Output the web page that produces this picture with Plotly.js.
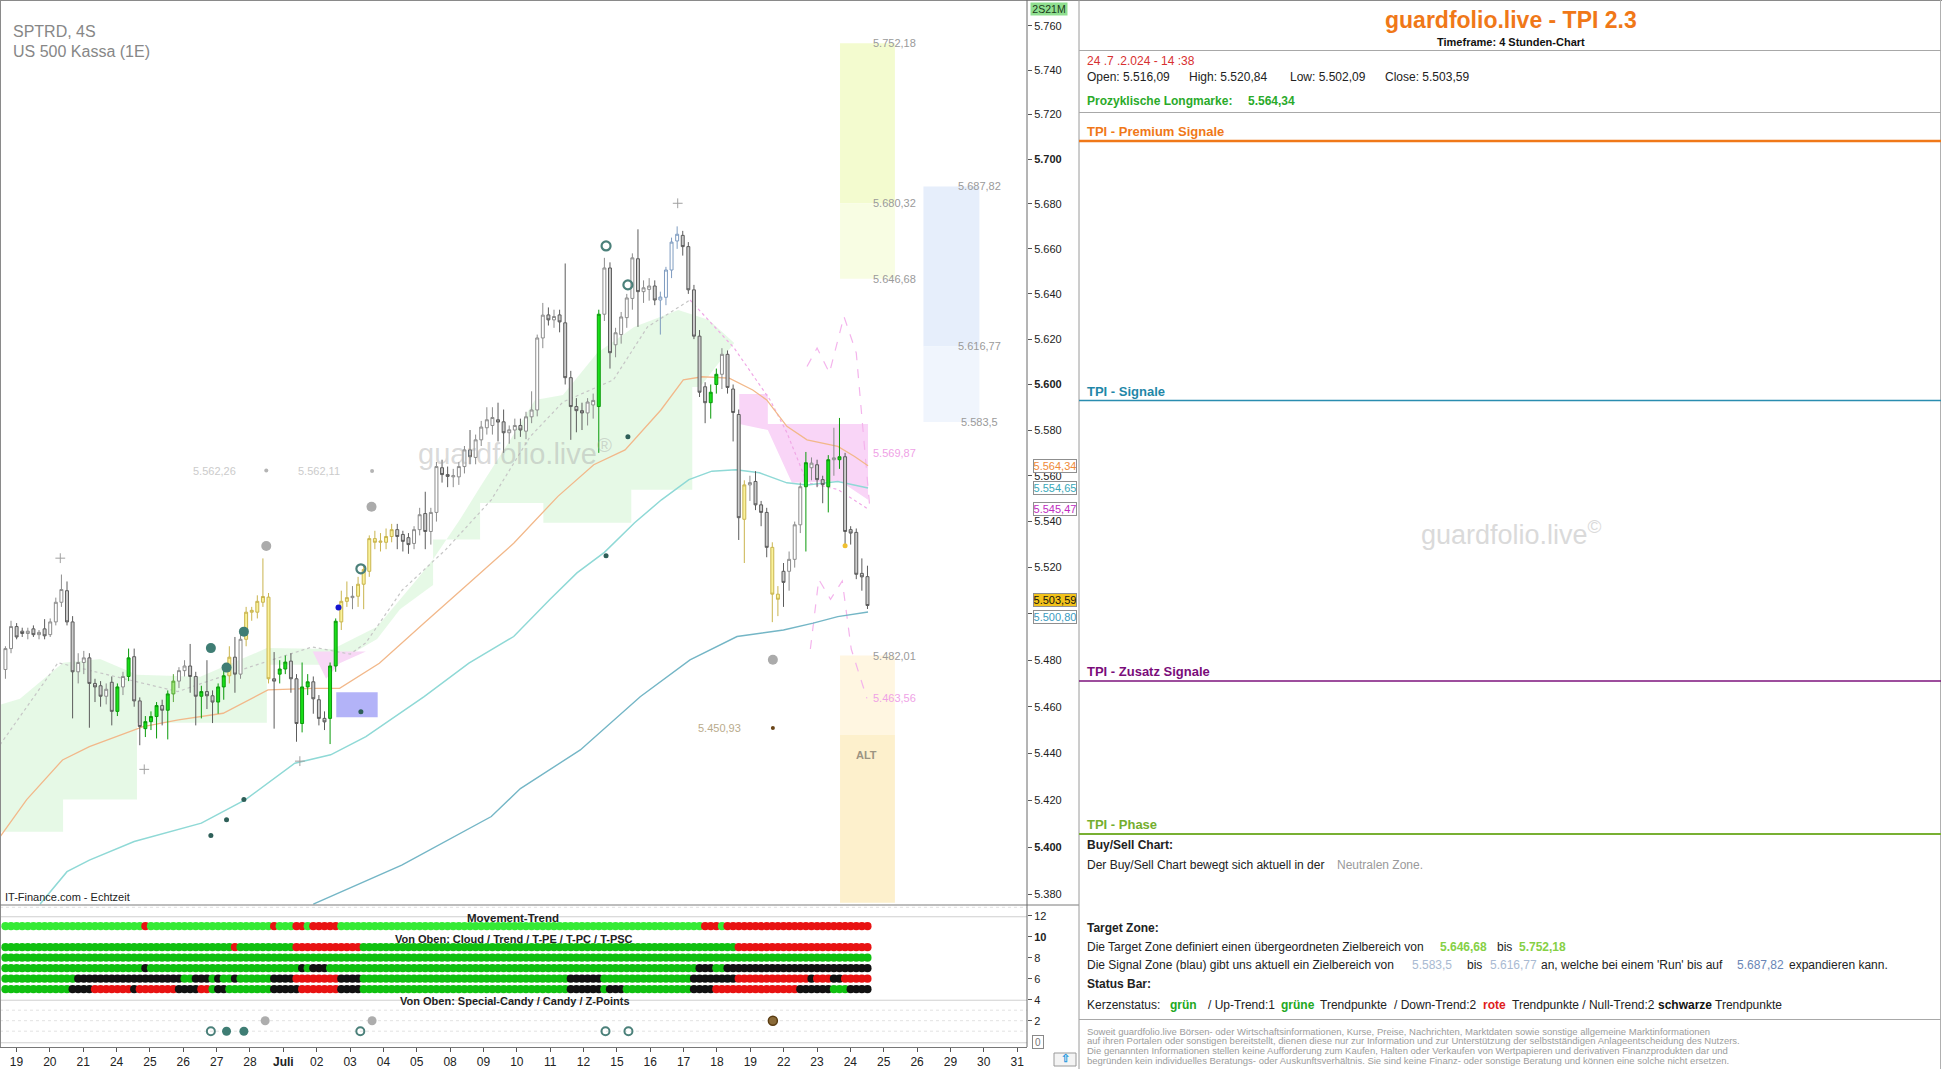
<!DOCTYPE html>
<html><head><meta charset="utf-8">
<script src="https://cdn.plot.ly/plotly-3.0.1.min.js"></script>
<style>html,body{margin:0;padding:0;background:#fff;overflow:hidden}#chart{width:1942px;height:1069px}</style>
</head><body><div id="chart"></div>
<script>
// ================= DATA =================
const firstCandle = -3; // candle slot of first value (slots: 6 per trading day)
const candleOpen = [
5476,5485,5494.5,5492.5,5491.5,5493.5,5491,5493.5,5491,5496.5,
5505,5510,5496.5,5475,5479,5481,5470,5469,5464.5,5470.5,
5458,5468.5,5473,5481.5,5462.5,5450.6,5453.6,5455.8,5460.5,5458.5,
5465.5,5471,5475.5,5477.5,5473,5464.5,5466.5,5464.7,5462,5468.5,
5473.3,5481.3,5474,5489,5500.7,5500.7,5505,5507.2,5472,5474,
5476.2,5479.6,5472,5452.8,5468.5,5470.7,5463,5455,5455,5477.5,
5496.5,5505.4,5507,5507.6,5512.8,5518.4,5532.6,5531,5531,5533.5,
5536.5,5534.4,5533,5530.5,5536.5,5543.5,5535.7,5544,5563.5,5560.5,
5559.5,5559.5,5564,5571.3,5568,5575.7,5581,5582,5584.5,5583.6,
5578.8,5580,5582,5579.5,5585.8,5588.8,5620.5,5630.7,5628.5,5630.7,
5627.2,5603,5590.3,5588.5,5587.5,5591,5590.3,5631,5651.5,5617.5,
5622,5629.5,5638,5655.6,5641,5642,5643.5,5637.3,5638.5,5650.6,
5663.5,5666,5661,5641.8,5621.3,5599,5592,5600,5604.5,5613.3,
5598,5586.8,5541,5556,5557.5,5547.3,5544,5528.8,5508.5,5518.4,
5518.4,5523.6,5538.6,5555.2,5563.5,5564.8,5558.3,5555.2,5567,5567,
5568.3,5536.5,5535.3,5517.5,5516.09];
const candleHigh = [
5486,5497,5496,5494,5494,5495,5493,5497.7,5498,5507,
5517,5514,5499,5483,5484,5483,5472,5471,5470,5473,
5470,5475,5485,5485,5464,5456,5458,5462,5463,5467,
5474,5477,5480,5487,5475,5469,5480,5467,5470,5476,
5486,5490,5492,5503,5503,5508,5524,5509,5483.5,5480,
5482,5483,5474,5479,5474,5473,5465,5458,5479,5498,
5510,5514,5512,5516,5521,5534,5536,5535,5537,5539,
5539,5536,5535,5538,5546,5553,5546,5566,5567,5564,
5563,5566,5573,5580,5578,5584,5590,5590,5592,5589,
5582,5585,5585,5588,5597,5622,5636,5634,5633,5633,
5653.5,5606,5594,5592,5594,5596,5633,5656,5654,5625,
5632,5640,5658,5668.7,5646,5647,5646,5641,5652,5665,
5670,5668,5663,5644,5624,5601,5600,5607,5616,5615,
5600,5589,5558,5560,5562,5549,5546,5531,5512,5522,
5527,5540,5557,5570.4,5568,5567,5560,5569,5581,5585.3,
5570,5538,5537,5524,5520.84];
const candleLow = [
5472,5483,5489,5490,5489,5490,5489,5489,5490,5495,
5503,5495,5455,5470,5474,5451,5462,5460,5461,5452,
5456,5465,5471,5460,5443.5,5447,5450,5446.4,5452,5446,
5462,5468,5473,5466,5452,5455,5459,5453,5457,5463,
5470,5466,5472,5486,5497,5498,5503,5470,5450.6,5470,
5474,5466,5445,5449,5465,5457,5452,5450,5444,5475,
5493,5503,5502,5503,5502,5516,5528,5527,5528,5531,
5528,5527,5526,5528,5534,5528,5530,5540,5557,5555,
5555,5556,5561,5565,5565,5573,5578,5578,5575,5570,
5574,5576,5577,5576,5583,5586,5616,5626,5625,5623,
5600,5575.7,5579,5580,5582,5585,5570,5628,5607,5612,
5618,5625,5633,5625.4,5636,5637,5635,5622,5635,5647,
5660,5657,5640,5620,5594.5,5583,5585,5596,5598,5596,
5575,5532,5522,5549,5545,5538,5524.5,5496.4,5499,5503,
5510,5520,5535,5527,5558,5555,5548,5544,5560,5563,
5530,5530,5515,5510,5502.09];
const candleClose = [
5485,5494.5,5490,5491.5,5492.5,5491,5492,5490.5,5496.5,5505,
5510.5,5496.5,5475,5479,5481,5470,5468.5,5464.5,5467.5,5458,
5468.5,5473,5481,5462.5,5451.5,5453.6,5455.8,5460.5,5458.5,5465.5,
5471,5475.5,5477.5,5473,5464.5,5466.5,5464.7,5462,5468.5,5473.3,
5481.3,5474,5489,5500.7,5501.5,5505.4,5507.5,5472,5471,5476.2,
5479.2,5472,5452.8,5468.5,5470.7,5463.4,5455,5453.5,5477.5,5496.8,
5505.4,5507,5507.6,5512.8,5519.2,5532.6,5531,5531.5,5533.5,5536.5,
5533.5,5531.4,5530,5536.5,5543,5535.7,5544,5564,5560.5,5559.7,
5560,5564,5571.3,5568.3,5575.7,5581.3,5584.5,5585.5,5583.5,5578.8,
5580.1,5582,5580,5585.8,5588.8,5620.5,5630.6,5628.5,5630,5627.6,
5603,5590.3,5588.5,5587.5,5592.3,5593,5631,5651.5,5614,5622.8,
5629.8,5638.2,5656,5641,5642.7,5643.5,5637.3,5638.6,5650.6,5663,
5666.5,5661,5641.8,5621.3,5596.6,5592,5596.6,5604.5,5613.3,5598.7,
5587.7,5541.7,5556,5557,5547.3,5544,5528.8,5508.5,5506.3,5513.6,
5523.6,5538.6,5555.2,5565.7,5565.5,5558.3,5556.1,5567,5567.8,5568.3,
5535.7,5535,5517.1,5516,5503.59];
// w=white up, g=grey down, G=green, Y=yellow, L=light green, B=blue-outlined
const candleStyle = (
"wwggwgwgww"+"wggwwgggwg"+"GwGggGGGgG"+"LwwggGggGG"+"YgwYYYYYgG"+
"GggGGgggGG"+"YYwYYYYYYY"+"gggwwgwwgg"+"wwwgwwwwgg"+"wwgwwwwgwg"+
"ggggwwGwgw"+"wwwgwwgBBB"+"BggggwGGgg"+"ggYwgggYYg"+"wwwGwggGwG"+"ggggg").split('');

const dayLabels = ['19','20','21','24','25','26','27','28','Juli','02','03','04','05','08','09','10','11','12','15','16','17','18','19','22','23','24','25','26','29','30','31'];

const maIdx = [-3.97,0.8,7.2,12,21.6,27.9,35.9,43.9,51.9,56.7,63.8,71.8,79.8,87.8,95.7,102.1,107.7,114.1,118.1,121.5,126.3,130.5,133,136.6,140.2,145.7,148.7,151.1];
const maVal = [5404.5,5420.3,5437.2,5442.9,5451.5,5454.4,5457.2,5467.2,5467.9,5467.9,5478.7,5496,5513.2,5530.6,5551,5564.8,5571.3,5588.8,5602,5603.4,5602.8,5597.6,5593.2,5581.6,5575.7,5572.8,5568.4,5564.34];
const emaFastIdx = [3.2,8,12,20,32,39.9,48.7,55.1,61.4,71.8,79.8,87.8,94.3,99.1,104,109.4,114.2,119.1,123.2,127.5,131.7,136.6,140.2,145.7,151.1];
const emaFastVal = [5376,5389.7,5394.6,5402.5,5410.3,5420.3,5435.8,5439.4,5447.2,5464.3,5478.7,5490.2,5506.3,5517.7,5526.6,5539.5,5549.5,5558.3,5562,5562.6,5561.3,5556.9,5556,5557.5,5554.65];
const emaSlowIdx = [52,67.8,83.8,89,99.7,110.4,119.3,127.7,136,141.3,145.7,151.1];
const emaSlowVal = [5376,5392.5,5413.1,5425,5441.5,5464.3,5480.1,5490.2,5493,5496,5498.8,5500.8];
const stopIdx = [-3.97,6.4,19.1,27.8,40.7,51.8,58.6,61.4,67.9,75.7,83.8,90.7,96.6,105.6,111.7,119.3];
const stopVal = [5443.7,5478.9,5471.5,5466.5,5477.1,5485.7,5482.6,5487.5,5510.3,5527.9,5549.5,5577,5592.3,5602,5625.4,5637.3];
const stopDownIdx = [119.3,127.2,133.6,136.6,140.2,145.7,151.1];
const stopDownVal = [5637.3,5616,5593.2,5578.9,5557,5554,5545.47];
const projUpIdx = [140.2,142,144.2,146.8,149,151.4];
const projUpVal = [5607.9,5616.1,5605.1,5630,5613.9,5546.5];
const projDnIdx = [140.8,142.3,144.4,146.5,148.1,150.9];
const projDnVal = [5484.8,5514.9,5506.3,5514.2,5484.8,5463.56];

const cloudUpIdx = [-3.97,-0.4,7.3,13.9,20.5,31.8,43.7,55.5,63.4,70.5,73.4,78.2,81.8,87.2,91.6,96.6,102.7,109.3,117.2,122.7,127.2];
const cloudUpVal = [5460.8,5463.4,5478.9,5480.5,5473.7,5472.9,5485.2,5484.8,5494.4,5514.9,5523.6,5540.9,5555.1,5575.7,5593.2,5595.4,5613.9,5625.4,5632.9,5628.5,5618.3];
const cloudLoIdx = [121.1,119.7,119.7,108.8,108.8,93.1,93.1,81.8,81.8,73.4,73.4,67.5,63.4,55.5,43.7,43.7,20.5,20.5,7.3,7.3,-3.97];
const cloudLoVal = [5598.9,5598.9,5553.9,5553.9,5539.5,5539.5,5548.1,5548.1,5532.2,5532.2,5512.5,5502,5489.1,5478,5478,5453.1,5453.1,5420.3,5420.3,5406.6,5406.6];

const pinkZoneIdx = [128.1,133.2,133.2,151.1,151.1,146.1,137.5,133.2,128.1];
const pinkZoneVal = [5595.8,5595.8,5582.6,5582.6,5549.5,5557.7,5556.9,5580,5582.6];
const pinkWedgeIdx = [51.9,61.4,56.7,54.3];
const pinkWedgeVal = [5483.7,5483.7,5478.7,5472];
const blueBoxIdx = [56.1,63.5];
const blueBoxVal = [5455.5,5466.2];

const targetZone = [5646.68,5680.32,5752.18];
const signalZone = [5583.5,5616.77,5687.82];
const altZone = [5376.51,5447.9,5482.01];

// markers on price chart
const tealDotIdx = [33.7,36.5,39.6], tealDotVal = [5485.2,5476.8,5492.3];
const greyDotIdx = [43.6,62.4,134.1], greyDotVal = [5529.4,5546.5,5480.2];
const ringIdx = [60.5,104.3,108.2], ringVal = [5519.5,5661.3,5644];
const smallDotIdx = [33.7,36.5,39.6,60.5,104.3,108.2], smallDotVal = [5405,5411.7,5420.3,5457.8,5525.1,5577.1];
const tinyGreyIdx = [43.6,62.5], tinyGreyVal = [5562.26,5562.11];
const plusIdx = [6.8,21.8,49.6,117.1], plusVal = [5524.1,5433.2,5436.7,5680.3];
const blueDotIdx = [56.5], blueDotVal = [5502.7];
const goldDotIdx = [147], goldDotVal = [5529.5];
const brownDotIdx = [134.1], brownDotVal = [5450.93];

// status bar rows (candle-slot runs; default green)
const rowMovement = [[22,22,'r'],[45,45,'r'],[49,50,'r'],[52,56,'r'],[122,124,'r'],[126,151,'r']];
const rowCloud = [[38,38,'r'],[49,60,'r'],[128,151,'r']];
const rowTrend = [];
const rowTPE = [[22,22,'k'],[50,50,'k'],[52,54,'k'],[121,123,'k'],[126,151,'k']];
const rowTPC = [[10,28,'k'],[31,33,'k'],[35,35,'k'],[38,38,'k'],[45,48,'k'],[49,56,'r'],[57,60,'k'],[98,103,'k'],[120,127,'k'],[128,140,'r'],[141,141,'k'],[142,144,'r'],[145,146,'k'],[147,151,'r']];
const rowTPSC = [[9,12,'k'],[13,19,'r'],[20,20,'k'],[21,27,'r'],[28,31,'k'],[32,33,'r'],[35,36,'k'],[45,49,'k'],[50,56,'r'],[57,60,'k'],[98,103,'k'],[105,107,'k'],[120,123,'k'],[124,138,'r'],[139,144,'k'],[148,151,'k']];
const zGreyIdx = [43.4,62.5], zBrownIdx = [134.1], zRingIdx = [33.7,60.4,104.2,108.3], zTealIdx = [36.5,39.6];

// ================= BUILD =================
const W = 1942, H = 1069;
const F = '"Liberation Sans", Arial, sans-serif';
const PX = x => x / W, PY = y => 1 - y / H;
const LG = v => Math.log10(v);
const slots = candleOpen.map((_, i) => i + firstCandle);
const xRange = [-3.97, 179.5];
const yRange = [LG(5375.6), LG(5771.3)];
const yMin = Math.pow(10, yRange[0]);
const traces = [];
const shapes = [];

// zones & indicator lines as axis-referenced shapes below the candles (shape coords on a log axis are data values)
function pathOf(xs, ys, close) {
  return xs.map((x, i) => (i ? 'L' : 'M') + x + ',' + ys[i]).join(' ') + (close ? ' Z' : '');
}
function polyShape(xs, ys, color) {
  shapes.push({type:'path', xref:'x', yref:'y', path: pathOf(xs, ys, true), fillcolor: color, line:{width:0}, layer:'below'});
}
function rectShape(x0, x1, y0, y1, color) { polyShape([x0, x1, x1, x0], [y0, y0, y1, y1], color); }
function lineShape(xs, ys, color, width, dash) {
  shapes.push({type:'path', xref:'x', yref:'y', path: pathOf(xs, ys, false), line:{color, width, dash: dash || 'solid'}, layer:'below'});
}
polyShape(cloudUpIdx.concat(cloudLoIdx), cloudUpVal.concat(cloudLoVal), 'rgba(214,246,214,0.62)');
const tz0 = 146.1, tz1 = 155.9, sz0 = 161, sz1 = 171;
rectShape(tz0, tz1, targetZone[1], targetZone[2], '#f3fbcf');
rectShape(tz0, tz1, targetZone[0], targetZone[1], '#f8fde3');
rectShape(sz0, sz1, signalZone[1], signalZone[2], '#e6eefb');
rectShape(sz0, sz1, signalZone[0], signalZone[1], '#f0f5fd');
rectShape(tz0, tz1, altZone[1], altZone[2], '#fff6e1');
rectShape(tz0, tz1, Math.max(altZone[0], yMin), altZone[1], '#fdf0cc');
polyShape(pinkZoneIdx, pinkZoneVal, '#f9d5f7');
polyShape(pinkWedgeIdx, pinkWedgeVal, '#f8d8f6');
rectShape(blueBoxIdx[0], blueBoxIdx[1], blueBoxVal[0], blueBoxVal[1], '#b3b3f8');
lineShape(stopIdx, stopVal, '#c6c6c6', 1.2, 'dot');
lineShape(stopDownIdx, stopDownVal, '#f0a8e6', 1.2, 'dot');
lineShape(projUpIdx, projUpVal, '#f4b4ec', 1.2, 'dash');
lineShape(projDnIdx, projDnVal, '#f4b4ec', 1.2, 'dash');
lineShape(emaSlowIdx, emaSlowVal, '#74b6c6', 1.4);
lineShape(emaFastIdx, emaFastVal, '#8fd9d6', 1.5);
lineShape(maIdx, maVal, '#f2b88a', 1.3);

// candles
function candles(tags, inc, dec) {
  const ii = [];
  candleStyle.forEach((t, i) => { if (tags.includes(t)) ii.push(i); });
  traces.push({type:'candlestick', xaxis:'x', yaxis:'y',
    x: ii.map(i => slots[i]), open: ii.map(i => candleOpen[i]), high: ii.map(i => candleHigh[i]),
    low: ii.map(i => candleLow[i]), close: ii.map(i => candleClose[i]),
    increasing:{line:{color:inc[0], width:1}, fillcolor:inc[1]},
    decreasing:{line:{color:dec[0], width:1}, fillcolor:dec[1]},
    whiskerwidth:0, hoverinfo:'skip', showlegend:false});
}
candles(['w','g'], ['#8c8c8c','#ffffff'], ['#5c5c5c','#cdcdcd']);
candles(['G'], ['#0a9a0a','#18e018'], ['#0a9a0a','#18e018']);
candles(['Y'], ['#c9b44e','#faf29a'], ['#c9b44e','#faf29a']);
candles(['L'], ['#5aa83a','#9ee87a'], ['#5aa83a','#9ee87a']);
candles(['B'], ['#7f9cc0','#ffffff'], ['#7f9cc0','#ffffff']);

function marks(xs, ys, marker, ax) {
  traces.push({type:'scatter', mode:'markers', x: xs, y: ys, marker, hoverinfo:'skip', showlegend:false,
    xaxis: ax ? ax[0] : 'x', yaxis: ax ? ax[1] : 'y'});
}
marks(tealDotIdx, tealDotVal, {size:10, color:'#3f7d74'});
marks(greyDotIdx, greyDotVal, {size:10, color:'#ababab'});
marks(ringIdx, ringVal, {size:9, symbol:'circle-open', color:'#4b807a', line:{width:2.2, color:'#4b807a'}});
marks(smallDotIdx, smallDotVal, {size:5, color:'#2e5f58'});
marks(tinyGreyIdx, tinyGreyVal, {size:4, color:'#b4b4b4'});
marks(plusIdx, plusVal, {size:7, symbol:'cross-thin', line:{width:1, color:'#a0a0a0'}});
marks(blueDotIdx, blueDotVal, {size:6, color:'#1515d0'});
marks(goldDotIdx, goldDotVal, {size:5, color:'#f0c030'});
marks(brownDotIdx, brownDotVal, {size:4, color:'#6a4518'});

// status bar dots
function rowColors(runs, green) {
  const cols = slots.map(() => green);
  runs.forEach(([a, b, c]) => { slots.forEach((s, i) => { if (s >= a && s <= b) cols[i] = c === 'r' ? '#e81212' : '#111111'; }); });
  return cols;
}
[[rowMovement, 11, '#35ea35'], [rowCloud, 9, '#10c010'], [rowTrend, 8, '#10c010'], [rowTPE, 7, '#10c010'], [rowTPC, 6, '#10c010'], [rowTPSC, 5, '#10c010']]
  .forEach(([runs, yv, g]) => marks(slots, slots.map(() => yv), {size:8.2, color: rowColors(runs, g)}, ['x2','y2']));
marks(zGreyIdx, zGreyIdx.map(() => 2), {size:9, color:'#adadad'}, ['x2','y2']);
marks(zBrownIdx, zBrownIdx.map(() => 2), {size:9, color:'#8a6a38', line:{width:1.5, color:'#5a3c12'}}, ['x2','y2']);
marks(zRingIdx, zRingIdx.map(() => 1), {size:8, symbol:'circle-open', color:'#4b807a', line:{width:2, color:'#4b807a'}}, ['x2','y2']);
marks(zTealIdx, zTealIdx.map(() => 1), {size:9, color:'#3f7d74'}, ['x2','y2']);

// ================= AXES =================
const priceTicks = [], priceText = [];
for (let v = 5380; v <= 5760; v += 20) {
  priceTicks.push(v);
  const s = '5.' + String(v - 5000).padStart(3, '0');
  priceText.push(v === 5500 ? ' ' : (v % 100 === 0 ? '<b>' + s + '</b>' : s));
}
const dayTicks = dayLabels.map((_, d) => -1.02 + 5.9586 * d);
const dayText = dayLabels.map(t => t === 'Juli' ? '<b>Juli</b>' : t);
const xDom = [0, 1027 / W];

const annotations = [];
function ann(o) { annotations.push(Object.assign({showarrow:false}, o)); }
function ptxt(x, y, text, size, color, anchor) {
  ann({xref:'paper', yref:'paper', x: PX(x), y: PY(y), xanchor: anchor || 'left', yanchor:'middle', text,
    font:{family:F, size: size || 12, color: color || '#222'}});
}
function ctxt(n, v, text, color, anchor) {
  ann({xref:'x', yref:'y', x: n, y: LG(v), xanchor: anchor || 'center', yanchor:'middle', text,
    font:{family:F, size:11, color: color || '#9a9a9a'}});
}

// chart labels
ctxt(tz1, targetZone[2], '5.752,18');
ctxt(tz1, targetZone[1], '5.680,32');
ctxt(tz1, targetZone[0], '5.646,68');
ctxt(sz1, signalZone[2], '5.687,82');
ctxt(sz1, signalZone[1], '5.616,77');
ctxt(sz1, signalZone[0], '5.583,5');
ctxt(tz1, 5569.87, '5.569,87', '#efa2e6');
ctxt(tz1, altZone[2], '5.482,01');
ctxt(tz1, 5463.56, '5.463,56', '#efa2e6');
ctxt(128.7, brownDotVal[0], '5.450,93', '#b9ab8c', 'right');
ctxt(34.4, tinyGreyVal[0], '5.562,26', '#cbcbcb');
ctxt(53, tinyGreyVal[1], '5.562,11', '#cbcbcb');
ctxt(150.9, 5439.3, '<b>ALT</b>', '#9c9482');
ptxt(515, 452, 'guardfolio.live<sup>®</sup>', 29, 'rgba(165,165,165,0.42)', 'center');
ptxt(11, 31, 'SPTRD, 4S', 16, '#878787');
ptxt(11, 52, 'US 500 Kassa (1E)', 16, '#878787');
ptxt(3, 897, 'IT-Finance.com - Echtzeit', 11, '#222');

// axis value boxes
[[5564.34,'5.564,34','#ef8a38','#ffffff',0],[5554.65,'5.554,65','#38a8b8','#ffffff',0],[5545.47,'5.545,47','#c02cc0','#ffffff',0],
 [5503.59,'5.503,59','#111111','#f2c21a',6],[5500.80,'5.500,80','#3a9ac0','#ffffff',-5]].forEach(([v,t,c,bg,dy]) => {
  ann({xref:'paper', yref:'y', x: PX(1054.5), y: LG(v), xanchor:'center', yanchor:'middle', yshift: dy, text: t,
    font:{family:F, size:11, color:c}, bgcolor: bg, bordercolor:'#8f8f8f', borderwidth:1, borderpad:0, width:42, height:12});
});
ann({xref:'paper', yref:'paper', x: PX(1049), y: PY(9), xanchor:'center', yanchor:'middle', text:'2S21M',
  font:{family:F, size:10.5, color:'#1a3a1a'}, bgcolor:'#90df90', borderpad:0, width:36, height:12});
ann({xref:'paper', yref:'y2', x: PX(1037.5), y: 0, xanchor:'center', yanchor:'middle', text:'0',
  font:{family:F, size:10, color:'#777'}, bordercolor:'#888', borderwidth:1, borderpad:1, width:8, height:10});

// status bar labels
ptxt(513, 918, '<b>Movement-Trend</b>', 11.5, '#222', 'center');
ptxt(513.5, 939, '<b>Von Oben: Cloud / Trend / T-PE / T-PC / T-PSC</b>', 11, '#222', 'center');
ptxt(514.5, 1001, '<b>Von Oben: Special-Candy / Candy / Z-Points</b>', 11, '#222', 'center');

// right panel
const ORG = '#f07818';
ptxt(1511, 20, '<b>guardfolio.live - TPI 2.3</b>', 23, ORG, 'center');
ptxt(1511, 42, '<b>Timeframe: 4 Stunden-Chart</b>', 11, '#111', 'center');
ptxt(1085, 61, '24 .7 .2.024 - 14 :38', 12, '#d83030');
ptxt(1085, 77, 'Open: 5.516,09', 12);
ptxt(1187, 77, 'High: 5.520,84', 12);
ptxt(1288, 77, 'Low: 5.502,09', 12);
ptxt(1383, 77, 'Close: 5.503,59', 12);
ptxt(1085, 101, '<b>Prozyklische Longmarke:</b>', 12, '#2aaa2a');
ptxt(1246, 101, '<b>5.564,34</b>', 12, '#2aaa2a');
ptxt(1085, 131, '<b>TPI - Premium Signale</b>', 13, ORG);
ptxt(1085, 391, '<b>TPI - Signale</b>', 13, '#1f87a8');
ptxt(1085, 671, '<b>TPI - Zusatz Signale</b>', 13, '#7a0c7a');
ptxt(1085, 824, '<b>TPI - Phase</b>', 13, '#74ae2e');
ptxt(1511, 533, 'guardfolio.live<sup>©</sup>', 27, '#dadada', 'center');
ptxt(1085, 845, '<b>Buy/Sell Chart:</b>', 12);
ptxt(1085, 865, 'Der Buy/Sell Chart bewegt sich aktuell in der', 12);
ptxt(1334.5, 865, 'Neutralen Zone.', 12, '#9a9a9a');
ptxt(1085, 928, '<b>Target Zone:</b>', 12);
ptxt(1085, 947, 'Die Target Zone definiert einen übergeordneten Zielbereich von', 12);
ptxt(1438, 947, '<b>5.646,68</b>', 12, '#86d045');
ptxt(1495, 947, 'bis', 12);
ptxt(1517, 947, '<b>5.752,18</b>', 12, '#86d045');
ptxt(1085, 965, 'Die Signal Zone (blau) gibt uns aktuell ein Zielbereich von', 12);
ptxt(1410, 965, '5.583,5', 12, '#a9bad2');
ptxt(1465, 965, 'bis', 12);
ptxt(1488, 965, '5.616,77', 12, '#a9bad2');
ptxt(1539, 965, 'an, welche bei einem \'Run\' bis auf', 12);
ptxt(1735, 965, '5.687,82', 12, '#6a86b6');
ptxt(1787, 965, 'expandieren kann.', 12);
ptxt(1085, 984, '<b>Status Bar:</b>', 12);
ptxt(1085, 1005, 'Kerzenstatus:', 12);
ptxt(1168, 1005, '<b>grün</b>', 12, '#22a822');
ptxt(1206, 1005, '/ Up-Trend:1', 12);
ptxt(1279, 1005, '<b>grüne</b>', 12, '#22a822');
ptxt(1318, 1005, 'Trendpunkte', 12);
ptxt(1392, 1005, '/ Down-Trend:2', 12);
ptxt(1481, 1005, '<b>rote</b>', 12, '#e01c1c');
ptxt(1510, 1005, 'Trendpunkte / Null-Trend:2', 12);
ptxt(1656, 1005, '<b>schwarze</b>', 12, '#111');
ptxt(1713, 1005, 'Trendpunkte', 12);
const disclaimer = [
 'Soweit guardfolio.live Börsen- oder Wirtschaftsinformationen, Kurse, Preise, Nachrichten, Marktdaten sowie sonstige allgemeine Marktinformationen',
 'auf ihren Portalen oder sonstigen bereitstellt, dienen diese nur zur Information und zur Unterstützung der selbstständigen Anlageentscheidung des Nutzers.',
 'Die genannten Informationen stellen keine Aufforderung zum Kaufen, Halten oder Verkaufen von Wertpapieren und derivativen Finanzprodukten dar und',
 'begründen kein individuelles Beratungs- oder Auskunftsverhältnis. Sie sind keine Finanz- oder sonstige Beratung und können eine solche nicht ersetzen.'];
disclaimer.forEach((t, i) => ptxt(1085, 1031 + i * 9.8, t, 9.5, '#9c9c9c'));

// frame & panel lines
function hl(y, x0, x1, color, w) { shapes.push({type:'line', xref:'paper', yref:'paper', x0: PX(x0), x1: PX(x1), y0: PY(y), y1: PY(y), line:{color, width: w || 1}}); }
function vl(x, y0, y1, color, w) { shapes.push({type:'line', xref:'paper', yref:'paper', x0: PX(x), x1: PX(x), y0: PY(y0), y1: PY(y1), line:{color, width: w || 1}}); }
hl(0.5, 0, W, '#8a8a8a');
vl(0.5, 0, 1047, '#8a8a8a');
hl(905, 0, 1079, '#7a7a7a');
vl(1027, 0, 1047, '#6a6a6a');
vl(1079, 0, H, '#9a9a9a');
vl(1940.5, 0, H, '#b0b0b0');
hl(50.5, 1079, 1941, '#a8a8a8');
hl(112.5, 1079, 1941, '#a8a8a8');
hl(141, 1079, 1941, ORG, 2.5);
hl(400.5, 1079, 1941, '#2a8db0', 1.5);
hl(681, 1079, 1941, '#7c127c', 1.5);
hl(834, 1079, 1941, '#78b032', 2);
hl(1019.5, 1079, 1941, '#a8a8a8');
[[11.9,'#cfcfcf','solid'],[3.95,'#cfcfcf','solid'],[-0.1,'#d0d0d0','solid'],[12.8,'#e2e2e2','dot'],[3,'#e2e2e2','dot'],[2,'#e2e2e2','dot'],[1,'#e2e2e2','dot']]
  .forEach(([v, c, d]) => shapes.push({type:'line', xref:'paper', yref:'y2', x0: 0, x1: PX(1027), y0: v, y1: v, line:{color:c, width:1, dash:d}, layer:'below'}));
shapes.push({type:'rect', xref:'paper', yref:'paper', x0: PX(1054), x1: PX(1076), y0: PY(1066), y1: PY(1053), line:{color:'#9a9a9a', width:1}, fillcolor:'#f4f4f4'});
ann({xref:'paper', yref:'paper', x: PX(1065), y: PY(1058), xanchor:'center', yanchor:'middle', text:'<b>⇧</b>', font:{family:F, size:11, color:'#2a9ae0'}});

const layout = {
  width: W, height: H, margin:{l:0, r:0, t:0, b:0}, paper_bgcolor:'#ffffff', plot_bgcolor:'rgba(0,0,0,0)',
  showlegend:false, boxgap:0.25, boxmode:'overlay', font:{family:F},
  xaxis:{domain:xDom, range:xRange, autorange:false, anchor:'y', showticklabels:false, ticks:'', showgrid:false, zeroline:false, showline:false, fixedrange:true,
    rangeslider:{visible:false}},
  yaxis:{domain:[PY(905), PY(1)], range:yRange, autorange:false, type:'log', anchor:'x', side:'right', tickmode:'array', tickvals:priceTicks, ticktext:priceText,
    ticks:'outside', ticklen:4, tickcolor:'#555', tickfont:{family:F, size:11, color:'#222'}, showgrid:false, zeroline:false, showline:false, fixedrange:true},
  xaxis2:{domain:xDom, range:xRange, autorange:false, anchor:'y2', tickmode:'array', tickvals:dayTicks, ticktext:dayText, ticks:'outside', ticklen:4, tickcolor:'#555',
    tickfont:{family:F, size:12, color:'#222'}, showline:true, linecolor:'#777', showgrid:false, zeroline:false, fixedrange:true},
  yaxis2:{domain:[PY(1047), PY(905)], range:[-0.505, 13.02], autorange:false, anchor:'x2', side:'right', tickmode:'array', tickvals:[2,4,6,8,10,12],
    ticktext:['2','4','6','8','<b>10</b>','12'], ticks:'outside', ticklen:4, tickcolor:'#555', tickfont:{family:F, size:11, color:'#222'},
    showgrid:false, zeroline:false, showline:false, fixedrange:true},
  annotations, shapes
};
Plotly.newPlot('chart', traces, layout, {staticPlot:true, displayModeBar:false});
</script>
</body></html>
